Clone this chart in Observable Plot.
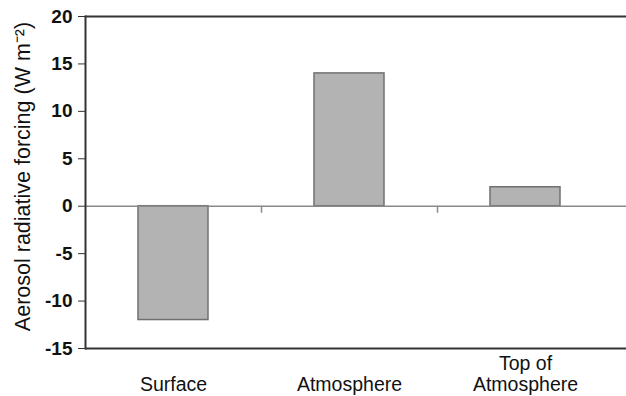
<!DOCTYPE html>
<html>
<head>
<meta charset="utf-8">
<script src="https://cdn.jsdelivr.net/npm/d3@7"></script>
<script src="https://cdn.jsdelivr.net/npm/@observablehq/plot@0.6"></script>
<style>
  html, body { margin: 0; padding: 0; background: #fff; }
  #chart svg { display: block; }
</style>
</head>
<body>
<div id="chart"></div>
<script>
const categories = ["Surface", "Atmosphere", "Top of Atmosphere"];
const categoryLabels = ["Surface", "Atmosphere", "Top of\nAtmosphere"];
const forcing = [-12, 14, 2];
const yTicks = [-15, -10, -5, 0, 5, 10, 15, 20];
const yLabel = "Aerosol radiative forcing (W m\u207B\u00B2)";

const data = categories.map((c, i) => ({category: c, label: categoryLabels[i], value: forcing[i]}));

const W = 626, H = 396;
const mLeft = 85, mTop = 16, mBottom = 48;
const xRange = [mLeft, 613];
const step = (xRange[1] - xRange[0]) / categories.length;

const chart = Plot.plot({
  width: W,
  height: H,
  marginLeft: mLeft,
  marginRight: 0,
  marginTop: mTop,
  marginBottom: mBottom,
  style: {fontFamily: "'Liberation Sans', Arial, sans-serif", background: "#fff", color: "#111"},
  x: {domain: categories, range: xRange, paddingInner: 0.6, paddingOuter: 0.3, axis: null},
  y: {domain: [-15, 20], label: null},
  marks: [
    Plot.barY(data, {x: "category", y: "value", fill: "#b3b3b3", stroke: "#707070", strokeWidth: 1.5}),
    Plot.ruleY([0], {stroke: "#8a8a8a", strokeWidth: 1.5}),
    Plot.ruleX(categories.slice(0, -1), {x: d => d, dx: step / 2, y1: 0, y2: 0, insetBottom: -7, stroke: "#8a8a8a", strokeWidth: 1.5}),
    Plot.ruleY([20, -15], {stroke: "#333", strokeWidth: 2}),
    Plot.frame({anchor: "left", stroke: "#333", strokeWidth: 2}),
    Plot.axisY({ticks: yTicks, tickFormat: d => String(d), tickSize: 7, tickPadding: 6, fontSize: 19, fontWeight: "bold", stroke: "#333", label: null}),
    Plot.text(data, {x: "category", text: "label", frameAnchor: "bottom", lineAnchor: "bottom", dy: 42, fontSize: 19.5, lineHeight: 1.05, fill: "#111"}),
    Plot.text([yLabel], {text: d => d, frameAnchor: "left", textAnchor: "middle", rotate: -90, dx: -62, dy: -6, fontSize: 21.5, fill: "#111"})
  ]
});
document.getElementById("chart").appendChild(chart);
</script>
</body>
</html>
